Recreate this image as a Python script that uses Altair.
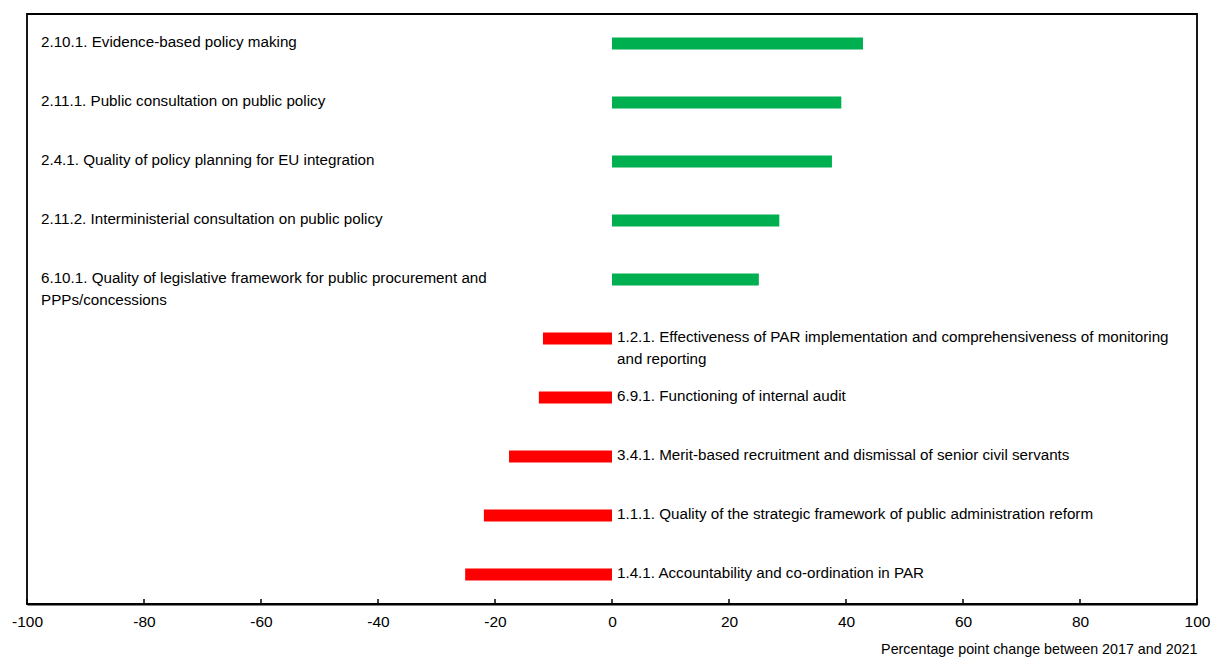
import altair as alt
import pandas as pd

labels = [
    "2.10.1. Evidence-based policy making",
    "2.11.1. Public consultation on public policy",
    "2.4.1. Quality of policy planning for EU integration",
    "2.11.2. Interministerial consultation on public policy",
    "6.10.1. Quality of legislative framework for public procurement and\nPPPs/concessions",
    "1.2.1. Effectiveness of PAR implementation and comprehensiveness of monitoring\nand reporting",
    "6.9.1. Functioning of internal audit",
    "3.4.1. Merit-based recruitment and dismissal of senior civil servants",
    "1.1.1. Quality of the strategic framework of public administration reform",
    "1.4.1. Accountability and co-ordination in PAR",
]
values = [42.9, 39.2, 37.6, 28.6, 25.1, -11.8, -12.5, -17.6, -21.9, -25.1]
order = list(range(len(labels)))
tick_values = [-100, -80, -60, -40, -20, 0, 20, 40, 60, 80, 100]

df = pd.DataFrame({"label": labels, "value": values, "order": order})
ticks_df = pd.DataFrame({"tick": tick_values})

FONT = "Liberation Sans"

x_scale = alt.Scale(domain=[-100, 100], nice=False, zero=False)
y_enc = alt.Y("order:O", axis=None, scale=alt.Scale(paddingInner=0, paddingOuter=0))

bars = alt.Chart(df).mark_bar(size=12).encode(
    x=alt.X(
        "value:Q",
        scale=x_scale,
        axis=alt.Axis(
            values=tick_values,
            labelExpr="datum.value + ''",
            title="Percentage point change between 2017 and 2021",
            titleAnchor="end",
            titleAlign="right",
            titleFontWeight="normal",
            titleFontSize=14.3,
            titleColor="#000000",
            titleFont=FONT,
            titlePadding=13,
            labelFont=FONT,
            labelFontSize=15.5,
            labelColor="#000000",
            labelPadding=10,
            domainColor="#000000",
            domainWidth=1.8,
            ticks=False,
            grid=False,
            labelFlush=False,
            labelOverlap=False,
        ),
    ),
    x2=alt.datum(0),
    y=y_enc,
    color=alt.condition(
        alt.datum.value > 0, alt.value("#00B050"), alt.value("#FF0000")
    ),
)

tick_marks = alt.Chart(ticks_df).mark_rule(color="#000000", strokeWidth=1.5).encode(
    x=alt.X("tick:Q", scale=x_scale),
    y=alt.value(590),
    y2=alt.value(585),
)

pos_text = alt.Chart(df).transform_filter(alt.datum.value > 0).mark_text(
    align="left", baseline="top", dy=-8.5, font=FONT, fontSize=15.2,
    color="#000000", lineBreak="\n", lineHeight=22,
).encode(
    x=alt.value(14),
    y=y_enc,
    text="label:N",
)

neg_text = alt.Chart(df).transform_filter(alt.datum.value < 0).transform_calculate(
    zero="0"
).mark_text(
    align="left", baseline="top", dy=-8.5, dx=5, font=FONT, fontSize=15.2,
    color="#000000", lineBreak="\n", lineHeight=22,
).encode(
    x=alt.X("zero:Q", scale=x_scale),
    y=y_enc,
    text="label:N",
)

chart = alt.layer(bars, tick_marks, pos_text, neg_text).properties(
    width=1170,
    height=590,
    background="white",
    autosize=alt.AutoSizeParams(type="none"),
    padding={"left": 19, "top": 6, "right": 15, "bottom": 53},
).configure_view(
    stroke="#000000",
    strokeWidth=1.8,
)

chart.save("out.html", embed_options={"renderer": "svg", "actions": False})
